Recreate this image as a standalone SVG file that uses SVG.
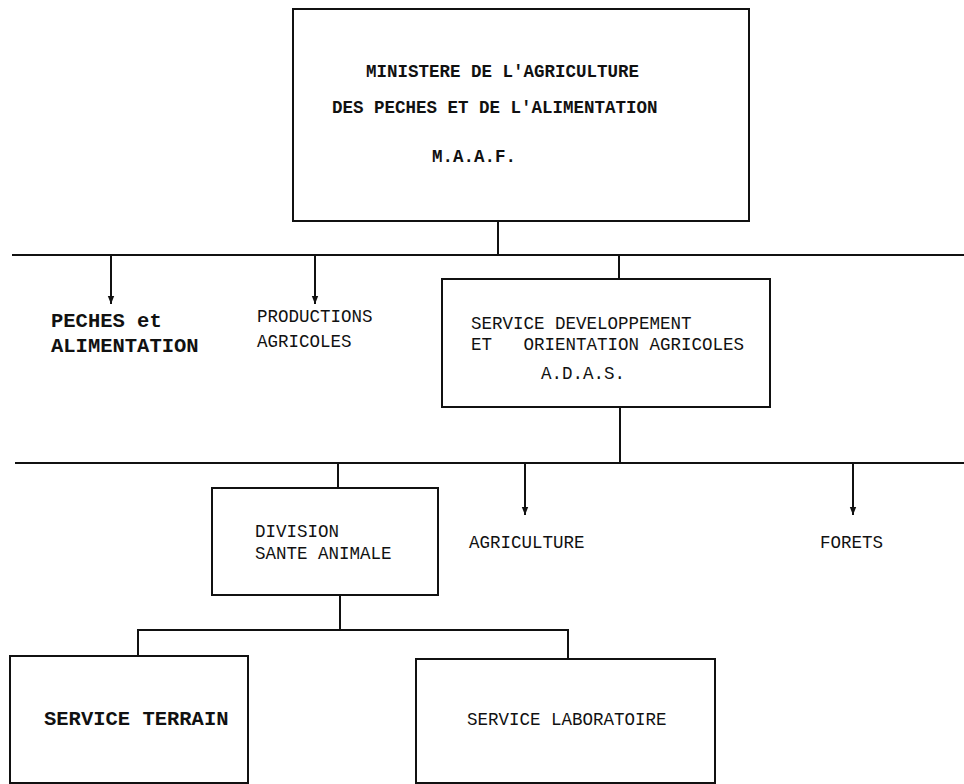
<svg xmlns="http://www.w3.org/2000/svg" width="964" height="784" viewBox="0 0 964 784">
<style>
.box{fill:#fff;stroke:#111;stroke-width:2}
.ln{stroke:#111;stroke-width:2;fill:none}
.t{font-family:"Liberation Mono","DejaVu Sans Mono",monospace;font-size:17.5px;fill:#111;white-space:pre}
.b{font-weight:bold}
.lg{font-size:20.5px}
</style>
<defs>
<marker id="ah" viewBox="0 0 10 10" refX="10" refY="5" markerWidth="8" markerHeight="8" markerUnits="userSpaceOnUse" orient="auto">
<path d="M0,1 L10,5 L0,9 z" fill="#111"/>
</marker>
</defs>
<rect width="964" height="784" fill="#fff"/>
<g id="connectors">
<line class="ln" x1="498" y1="221" x2="498" y2="255"/>
<line class="ln" x1="12" y1="255" x2="964" y2="255"/>
<line class="ln" x1="111" y1="255" x2="111" y2="304" marker-end="url(#ah)"/>
<line class="ln" x1="315" y1="255" x2="315" y2="304" marker-end="url(#ah)"/>
<line class="ln" x1="619" y1="255" x2="619" y2="279"/>
<line class="ln" x1="620" y1="407" x2="620" y2="463"/>
<line class="ln" x1="15" y1="463" x2="964" y2="463"/>
<line class="ln" x1="338" y1="463" x2="338" y2="488"/>
<line class="ln" x1="525" y1="463" x2="525" y2="515" marker-end="url(#ah)"/>
<line class="ln" x1="853" y1="463" x2="853" y2="515" marker-end="url(#ah)"/>
<line class="ln" x1="340" y1="595" x2="340" y2="630"/>
<polyline class="ln" points="138,656 138,630 568,630 568,659"/>
</g>
<g id="maaf">
<rect class="box" x="293" y="9" width="456" height="212"/>
<text class="t b" x="366" y="77">MINISTERE DE L'AGRICULTURE</text>
<text class="t b" x="332" y="113">DES PECHES ET DE L'ALIMENTATION</text>
<text class="t b" x="432" y="162">M.A.A.F.</text>
</g>
<g id="peches">
<text class="t lg b" x="51" y="327">PECHES et</text>
<text class="t lg b" x="51" y="352">ALIMENTATION</text>
</g>
<g id="productions">
<text class="t" x="257" y="322">PRODUCTIONS</text>
<text class="t" x="257" y="347">AGRICOLES</text>
</g>
<g id="adas">
<rect class="box" x="442" y="279" width="328" height="128"/>
<text class="t" x="471" y="329">SERVICE DEVELOPPEMENT</text>
<text class="t" x="471" y="350">ET   ORIENTATION AGRICOLES</text>
<text class="t" x="541" y="379">A.D.A.S.</text>
</g>
<g id="division">
<rect class="box" x="212" y="488" width="226" height="107"/>
<text class="t" x="255" y="537">DIVISION</text>
<text class="t" x="255" y="559">SANTE ANIMALE</text>
</g>
<g id="agriculture">
<text class="t" x="469" y="548">AGRICULTURE</text>
</g>
<g id="forets">
<text class="t" x="820" y="548">FORETS</text>
</g>
<g id="terrain">
<rect class="box" x="10" y="656" width="238" height="127"/>
<text class="t lg b" x="44" y="725">SERVICE TERRAIN</text>
</g>
<g id="laboratoire">
<rect class="box" x="416" y="659" width="299" height="124"/>
<text class="t" x="467" y="725">SERVICE LABORATOIRE</text>
</g>
</svg>
